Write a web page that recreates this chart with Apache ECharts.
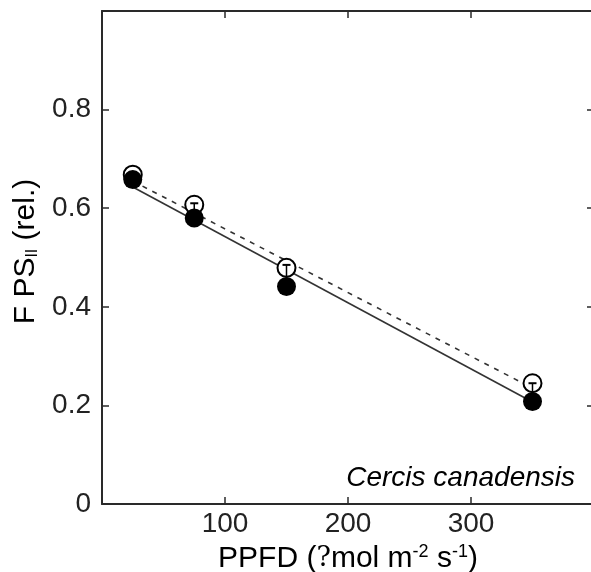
<!DOCTYPE html>
<html>
<head>
<meta charset="utf-8">
<script src="https://cdn.jsdelivr.net/npm/echarts@6/dist/echarts.min.js"></script>
<style>
html,body{margin:0;padding:0;background:#fff;}
#c{width:591px;height:572px;}
</style>
</head>
<body>
<div id="c"></div>
<script>
// ---- data ----
var ppfd = [25, 75, 150, 350];
var openValues = [0.668, 0.607, 0.479, 0.245];     // open circles
var filledValues = [0.658, 0.580, 0.441, 0.208];   // filled circles
var filledErr = [0.013, 0.030, 0.044, 0.037];      // upper error bars
var solidFit = [[25, 0.643], [350, 0.207]];        // fit for filled
var dashedFit = [[25, 0.655], [350, 0.235]];       // fit for open
var xTicks = [0, 100, 200, 300, 400];
var yTicks = [0, 0.2, 0.4, 0.6, 0.8, 1.0];
var speciesLabel = 'Cercis canadensis';

var FONT = 'Liberation Sans, Arial, sans-serif';
var AX = '#2a2a2a';

var chart = echarts.init(document.getElementById('c'));

function pts(xs, ys){ return xs.map(function(x,i){ return [x, ys[i]]; }); }

var errData = ppfd.map(function(x,i){ return [x, filledValues[i], filledValues[i] + filledErr[i]]; });

var axisCommon = {
  type: 'value', min: 0,
  axisLine: { show: true, onZero: false, lineStyle: { color: AX, width: 2 } },
  axisTick: { show: true, inside: true, length: 7, lineStyle: { color: AX, width: 1.5 } },
  splitLine: { show: false }
};

var option = {
  animation: false,
  backgroundColor: '#fff',
  grid: { left: 102, top: 11, width: 492, height: 493, containLabel: false, outerBoundsMode: 'none' },
  xAxis: [
    Object.assign({}, axisCommon, {
      max: 400, interval: 100, position: 'bottom',
      axisLabel: {
        fontFamily: FONT, fontSize: 28, color: '#222', margin: 6,
        formatter: function(v){ return (v === 0 || v === 400) ? '' : String(v); }
      },
      name: '{a|PPFD (}{q|?}{a|mol m}{s|-2}{a| s}{s|-1}{a|)}',
      nameLocation: 'middle', nameGap: 27,
      nameTextStyle: {
        rich: {
          a: { fontFamily: FONT, fontSize: 30, color: '#000' },
          q: { fontFamily: 'DejaVu Serif, serif', fontSize: 27, color: '#000' },
          s: { fontFamily: FONT, fontSize: 18, color: '#000', verticalAlign: 'top', padding: [0,0,14,0] }
        }
      }
    }),
    Object.assign({}, axisCommon, {
      max: 400, interval: 100, position: 'top',
      axisLabel: { show: false }
    })
  ],
  yAxis: [
    Object.assign({}, axisCommon, {
      max: 1, interval: 0.2, position: 'left',
      axisLabel: {
        fontFamily: FONT, fontSize: 28, color: '#222', margin: 11,
        formatter: function(v){ if (Math.abs(v-1) < 1e-9) return ''; return v === 0 ? '0' : v.toFixed(1); }
      },
      name: '{a|F PS}{s|II}{a| (rel.)}',
      nameLocation: 'middle', nameGap: 54, nameRotate: 90,
      nameTextStyle: {
        padding: [0, 0, 0, 12],
        rich: {
          a: { fontFamily: FONT, fontSize: 30, color: '#000' },
          s: { fontFamily: FONT, fontSize: 16, color: '#000', padding: [12,0,0,0] }
        }
      }
    }),
    Object.assign({}, axisCommon, {
      max: 1, interval: 0.2, position: 'right',
      axisLabel: { show: false }
    })
  ],
  series: [
    {
      type: 'line', data: solidFit, symbol: 'none', z: 1,
      lineStyle: { color: '#333', width: 1.6, type: 'solid' }
    },
    {
      type: 'line', data: dashedFit, symbol: 'none', z: 1,
      lineStyle: { color: '#333', width: 1.6, type: [5, 6] }
    },
    {
      type: 'scatter', data: pts(ppfd, openValues), symbol: 'circle', symbolSize: 18, z: 2,
      itemStyle: { color: '#fff', borderColor: '#000', borderWidth: 2, opacity: 1 }
    },
    {
      type: 'scatter', data: pts(ppfd, filledValues), symbol: 'circle', symbolSize: 19, z: 3,
      itemStyle: { color: '#000', borderColor: '#000', borderWidth: 0, opacity: 1 }
    },
    {
      type: 'custom', z: 4, data: errData,
      renderItem: function(params, api){
        var x = api.value(0);
        var p0 = api.coord([x, api.value(1)]);
        var p1 = api.coord([x, api.value(2)]);
        var w = 4;
        return {
          type: 'group',
          children: [
            { type: 'line', shape: { x1: p0[0], y1: p0[1], x2: p1[0], y2: p1[1] }, style: { stroke: '#000', lineWidth: 1.5 } },
            { type: 'line', shape: { x1: p1[0]-w, y1: p1[1], x2: p1[0]+w, y2: p1[1] }, style: { stroke: '#000', lineWidth: 2 } }
          ]
        };
      }
    }
  ],
  graphic: [
    {
      type: 'text', right: 16, top: 464,
      style: { text: speciesLabel, fontFamily: FONT, fontStyle: 'italic', fontSize: 28, fill: '#000' }
    }
  ]
};
chart.setOption(option);
</script>
</body>
</html>
